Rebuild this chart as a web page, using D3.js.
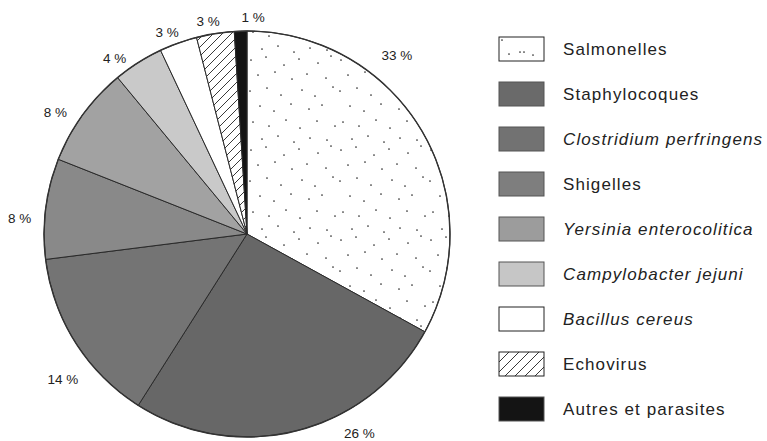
<!DOCTYPE html>
<html><head><meta charset="utf-8">
<script src="https://cdn.jsdelivr.net/npm/d3@7"></script>
<style>body{margin:0;background:#fff}svg{display:block}</style>
</head><body><svg id="c" width="767" height="441"></svg>
<script>
// ---- data ----
const categories = ["Salmonelles","Staphylocoques","Clostridium perfringens","Shigelles","Yersinia enterocolitica","Campylobacter jejuni","Bacillus cereus","Echovirus","Autres et parasites"];
const values = [33, 26, 14, 8, 8, 4, 3, 3, 1];
const valueLabels = ["33 %","26 %","14 %","8 %","8 %","4 %","3 %","3 %","1 %"];
const italicNames = ["Clostridium perfringens","Yersinia enterocolitica","Campylobacter jejuni","Bacillus cereus"];

// ---- styling / layout ----
const fills = ["url(#dots)","#676767","#747474","#898989","#a2a2a2","#c9c9c9","#ffffff","url(#hatch)","#141414"];
const legendFills = ["url(#dotsL)","#6a6a6a","#727272","#7e7e7e","#9c9c9c","#c6c6c6","#ffffff","url(#hatchL)","#141414"];
const labelAngleShift = [-19.4, -15, -6, -3.2, -3.6, -4.6, -1.8, -1.4, 3.4];
const labelRadius = [233, 229, 235, 228, 227, 220, 217, 216, 217];

const svg = d3.select("#c");
const cx = 247, cy = 234, R = 203;
const defs = svg.append("defs");

// dotted texture (fixed tile)
function dotPattern(id, size, pts) {
  const p = defs.append("pattern").attr("id", id).attr("patternUnits", "userSpaceOnUse")
    .attr("width", size).attr("height", size);
  p.append("rect").attr("width", size).attr("height", size).attr("fill", "#fff");
  pts.forEach(d => p.append("circle").attr("cx", d[0]).attr("cy", d[1]).attr("r", 0.85).attr("fill", "#2a2a2a"));
}
dotPattern("dots", 90, [
  [4,6],[19,3],[37,11],[52,5],[71,9],[84,2],
  [11,21],[28,18],[45,25],[60,20],[79,24],
  [3,37],[20,34],[34,41],[55,36],[68,42],[86,33],
  [13,52],[27,57],[44,50],[62,55],[75,51],
  [6,68],[22,72],[39,66],[53,74],[70,67],[88,72],
  [15,85],[31,82],[47,88],[63,84],[80,86]
]);
dotPattern("dotsL", 46, [[3,3],[10,17],[21,15],[25,15],[34,18]]);

function hatchPattern(id, s) {
  const p = defs.append("pattern").attr("id", id).attr("patternUnits", "userSpaceOnUse")
    .attr("width", s).attr("height", s);
  p.append("rect").attr("width", s).attr("height", s).attr("fill", "#fff");
  p.append("path").attr("d", `M-1,${s+1} L${s+1},-1 M${-s/2-1},${s/2+1} L${s/2+1},${-s/2-1} M${s/2-1},${1.5*s+1} L${1.5*s+1},${s/2-1}`)
    .attr("stroke", "#222").attr("stroke-width", 0.9);
}
hatchPattern("hatch", 9);
hatchPattern("hatchL", 10);

const pie = d3.pie().sort(null).value(d => d)(values);
const arc = d3.arc().innerRadius(0).outerRadius(R);

const g = svg.append("g").attr("transform", `translate(${cx},${cy})`);
g.selectAll("path.slice").data(pie).join("path")
  .attr("class", "slice")
  .attr("d", arc)
  .attr("fill", (d, i) => fills[i])
  .attr("stroke", "#2a2a2a").attr("stroke-width", 1).attr("stroke-linejoin", "round");
g.append("circle").attr("r", R).attr("fill", "none").attr("stroke", "#333").attr("stroke-width", 1.4);

// value labels
g.selectAll("text.val").data(pie).join("text")
  .attr("class", "val")
  .each(function (d, i) {
    const a = (d.startAngle + d.endAngle) / 2 + labelAngleShift[i] * Math.PI / 180;
    const r = labelRadius[i];
    d3.select(this).attr("x", r * Math.sin(a)).attr("y", -r * Math.cos(a));
  })
  .attr("text-anchor", "middle").attr("dominant-baseline", "central")
  .attr("font-family", "Liberation Sans, Arial, sans-serif").attr("font-size", 13.5)
  .attr("fill", "#222")
  .text((d, i) => valueLabels[i]);

// legend
const ly = d3.scalePoint().domain(categories).range([37, 397]);
const leg = svg.append("g");
const row = leg.selectAll("g").data(categories).join("g")
  .attr("transform", d => `translate(499,${ly(d)})`);
row.append("rect").attr("width", 45).attr("height", 24)
  .attr("fill", (d, i) => legendFills[i])
  .attr("stroke", (d, i) => (i === 0 || i === 6 || i === 7) ? "#222" : "#555")
  .attr("stroke-width", 1);
row.append("text").attr("x", 64).attr("y", 17.5)
  .attr("font-family", "Liberation Sans, Arial, sans-serif").attr("font-size", 17)
  .attr("letter-spacing", 1.1)
  .attr("font-style", d => italicNames.includes(d) ? "italic" : "normal")
  .attr("fill", "#222")
  .text(d => d);
</script></body></html>
